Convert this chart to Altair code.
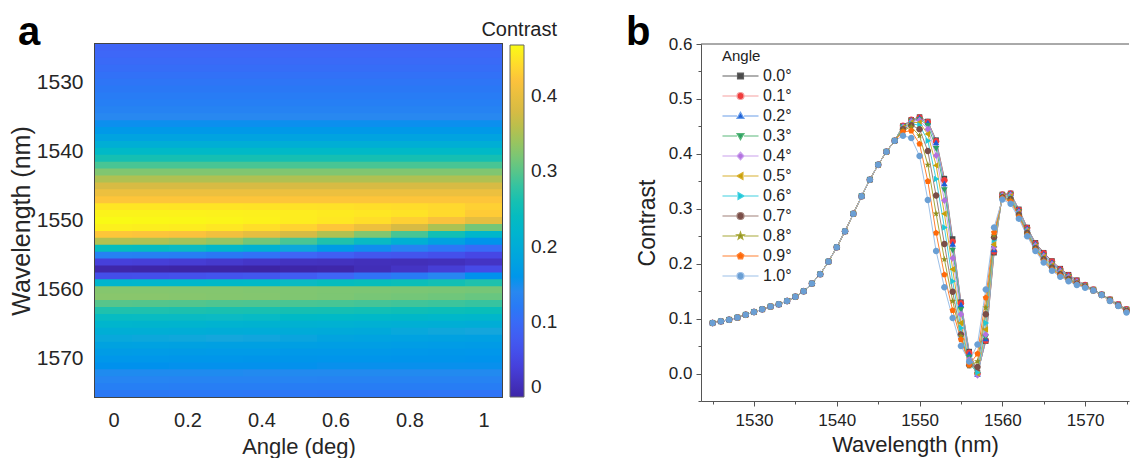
import altair as alt
import pandas as pd

FONT = "Liberation Sans"

angle_labels = ["0.0°", "0.1°", "0.2°", "0.3°", "0.4°", "0.5°", "0.6°", "0.7°", "0.8°", "0.9°", "1.0°"]
angle_values = [0.0, 0.1, 0.2, 0.3, 0.4, 0.5, 0.6, 0.7, 0.8, 0.9, 1.0]
wavelengths = list(range(1525, 1576))

# 1525 ... 1547 nm : all angles overlap
shared_part = [0.092, 0.095, 0.098, 0.102, 0.107, 0.112, 0.117, 0.122, 0.126, 0.132,
               0.140, 0.150, 0.164, 0.181, 0.204, 0.230, 0.259, 0.291, 0.323, 0.353,
               0.380, 0.404, 0.424]
# 1548 ... 1575 nm per angle
tail_00 = [.451, .462, .467, .459, .425, .355, .245, .130, .040, .002, .059, .220, .326, .328,
           .299, .266, .238, .220, .205, .191, .180, .170, .161, .153, .144, .135, .126, .117]
tail_01 = [.451, .462, .466, .458, .423, .352, .240, .128, .038, .000, .060, .222, .326, .328,
           .298, .265, .237, .219, .204, .190, .179, .169, .161, .153, .144, .135, .126, .117]
tail_02 = [.450, .461, .465, .456, .420, .345, .235, .125, .035, -.002, .063, .225, .325, .327,
           .297, .264, .236, .217, .202, .189, .178, .168, .160, .152, .144, .134, .125, .116]
tail_03 = [.450, .460, .463, .452, .410, .335, .225, .117, .030, -.002, .067, .228, .325, .326,
           .295, .262, .234, .215, .200, .187, .177, .167, .160, .152, .144, .134, .125, .116]
tail_04 = [.449, .459, .461, .445, .397, .315, .210, .108, .025, -.003, .071, .230, .324, .325,
           .294, .261, .233, .214, .199, .186, .176, .167, .159, .152, .143, .134, .125, .115]
tail_05 = [.448, .457, .457, .436, .379, .291, .190, .092, .020, .000, .080, .235, .323, .323,
           .292, .259, .231, .212, .197, .184, .174, .165, .159, .152, .143, .134, .124, .115]
tail_06 = [.447, .455, .452, .424, .354, .266, .168, .083, .018, .002, .092, .243, .322, .321,
           .291, .258, .230, .210, .195, .182, .173, .164, .158, .151, .143, .133, .124, .114]
tail_07 = [.445, .452, .445, .405, .324, .236, .149, .071, .015, .012, .108, .248, .321, .318,
           .289, .256, .228, .208, .193, .181, .172, .164, .158, .151, .143, .133, .124, .114]
tail_08 = [.443, .449, .433, .380, .291, .208, .132, .068, .014, .022, .120, .252, .320, .316,
           .287, .254, .227, .206, .191, .179, .171, .163, .157, .151, .143, .133, .123, .113]
tail_09 = [.440, .442, .418, .350, .256, .180, .115, .062, .016, .036, .138, .257, .319, .313,
           .285, .252, .225, .204, .189, .178, .169, .162, .157, .151, .143, .132, .123, .112]
tail_10 = [.433, .429, .396, .316, .223, .157, .101, .050, .022, .053, .153, .266, .317, .309,
           .282, .250, .223, .202, .187, .176, .168, .161, .156, .151, .143, .132, .123, .111]
tails = [tail_00, tail_01, tail_02, tail_03, tail_04, tail_05, tail_06, tail_07, tail_08, tail_09, tail_10]

marker_colors = ["#4a4a4a", "#f03c3c", "#1d5fd8", "#2ea064", "#b472e0", "#c8a00a",
                 "#20c8d8", "#7a4e48", "#909020", "#ff6a0a", "#6a9fd4"]
line_colors = ["#606060", "#f5a0a0", "#6a9ee8", "#5ab87a", "#c9a0ec", "#d8b030",
               "#40d0e0", "#a08078", "#a8a838", "#ff8030", "#9cc0e8"]
parula = ["#3e26a8", "#4745e4", "#3f66f7", "#2888f0", "#15a6dc", "#0bbac4",
          "#35c3a0", "#88c66c", "#d2ba45", "#fcc23c", "#f9fb14"]

rows = []
for lab, av, tail in zip(angle_labels, angle_values, tails):
    for wl, c in zip(wavelengths, shared_part + tail):
        rows.append({"label": lab, "angle": av, "wl": wl, "contrast": c})
df = pd.DataFrame(rows)

# ---------- marker paths ----------
def poly(pts, dx=0.0):
    return "M" + "L".join(f"{x + dx:.3f},{y:.3f}" for x, y in pts) + "Z"

def circ(dx=0.0):
    return f"M{1 + dx:.3f},0A1,1,0,1,1,{-1 + dx:.3f},0A1,1,0,1,1,{1 + dx:.3f},0Z"

shape_pts = [
    [(-0.85, -0.85), (0.85, -0.85), (0.85, 0.85), (-0.85, 0.85)],
    None,
    [(0, -1.05), (1, 0.7), (-1, 0.7)],
    [(0, 1.05), (1, -0.7), (-1, -0.7)],
    [(0, -1.1), (1, 0), (0, 1.1), (-1, 0)],
    [(-1.05, 0), (0.7, -1), (0.7, 1)],
    [(1.05, 0), (-0.7, -1), (-0.7, 1)],
    None,
    [(0, -1.1), (0.26, -0.36), (1.05, -0.34), (0.42, 0.13), (0.65, 0.89), (0, 0.44),
     (-0.65, 0.89), (-0.42, 0.13), (-1.05, -0.34), (-0.26, -0.36)],
    [(0, -1), (0.95, -0.31), (0.59, 0.81), (-0.59, 0.81), (-0.95, -0.31)],
    None,
]

def mk(i, dx=0.0):
    return circ(dx) if shape_pts[i] is None else poly(shape_pts[i], dx)

marker_paths = [mk(i) for i in range(11)]
legend_paths = ["M-2.15,0L2,0M4,0L8.15,0" + mk(i, 3.0) for i in range(11)]

# ---------- panel a : heatmap ----------
cscale = alt.Scale(domain=[0, 0.468], range=parula, nice=False, zero=False)
xa_scale = alt.Scale(domain=[-0.05, 1.05], nice=False, zero=False)
ya_scale = alt.Scale(domain=[1524.5, 1575.5], nice=False, zero=False, reverse=True)

# cells are drawn slightly oversized so that neighbouring cells overlap (no seams)
heat = alt.Chart(df).transform_calculate(
    x1="datum.angle - 0.05", x2="datum.angle + 0.06",
    y1="datum.wl - 0.5", y2="datum.wl + 0.7"
).mark_rect(strokeWidth=0, clip=True).encode(
    x=alt.X("x1:Q", scale=xa_scale, title="Angle (deg)",
            axis=alt.Axis(orient="bottom", offset=-5, tickSize=5, domain=False, grid=False,
                          values=[0, 0.2, 0.4, 0.6, 0.8, 1], format="~g",
                          labelFontSize=20, labelPadding=13, labelColor="#262626",
                          titleFontSize=22, titleFontWeight="normal", titlePadding=6,
                          titleColor="#262626", tickColor="#444")),
    x2="x2:Q",
    y=alt.Y("y1:Q", scale=ya_scale, title="Wavelength (nm)",
            axis=alt.Axis(orient="left", offset=-5, tickSize=5, domain=False, grid=False,
                          values=[1530, 1540, 1550, 1560, 1570], format="d",
                          labelFontSize=21, labelPadding=12, labelColor="#262626",
                          titleFontSize=25, titleFontWeight="normal", titlePadding=2,
                          titleColor="#262626", tickColor="#444")),
    y2="y2:Q",
    color=alt.Color("contrast:Q", scale=cscale,
                    legend=alt.Legend(type="gradient", orient="none", legendX=386, legendY=-24,
                                      direction="vertical",
                                      title="Contrast", titleFontSize=20, titleFontWeight="normal",
                                      titleColor="#222", titleAnchor="end", titleAlign="right",
                                      titlePadding=5, gradientLength=352, gradientThickness=14,
                                      gradientStrokeColor="#666", gradientStrokeWidth=1,
                                      values=[0, 0.1, 0.2, 0.3, 0.4], labelFontSize=19,
                                      labelColor="#262626", labelOffset=7, labelOverlap=False,
                                      labelBaseline="middle",
                                      labelExpr="datum.value == 0 ? '0' : format(datum.value, '.1f')")),
)

ticks_a = alt.Chart(df).transform_filter("false").mark_rect().encode(
    x=alt.X("angle:Q", scale=xa_scale,
            axis=alt.Axis(orient="top", offset=-5, tickSize=5, domain=False, labels=False,
                          grid=False, title=None, values=[0, 0.2, 0.4, 0.6, 0.8, 1], tickColor="#444")),
    y=alt.Y("wl:Q", scale=ya_scale,
            axis=alt.Axis(orient="right", offset=-5, tickSize=5, domain=False, labels=False,
                          grid=False, title=None, values=[1530, 1540, 1550, 1560, 1570], tickColor="#444")),
)

panel_a = alt.layer(heat, ticks_a).resolve_axis(x="independent", y="independent").properties(
    width=407, height=353,
    view=alt.ViewBackground(stroke="#444", strokeWidth=2),
    title=alt.TitleParams("a", anchor="start", frame="group", dx=-77, fontSize=40,
                          fontWeight="bold", font=FONT, offset=-33, color="#000"),
)

# ---------- panel b : curves ----------
xb_scale = alt.Scale(domain=[1523.6, 1575.3], nice=False, zero=False)
yb_scale = alt.Scale(domain=[-0.05, 0.6], nice=False, zero=False)

xb_axis = alt.Axis(orient="bottom", values=list(range(1525, 1576, 5)),
                   labelExpr="datum.value % 10 == 0 ? datum.label : ''", format="d",
                   tickSize={"condition": {"test": "datum.value % 10 == 0", "value": 5}, "value": 3},
                   domainColor="#555", tickColor="#555", grid=False,
                   labelFontSize=17, labelColor="#222", labelPadding=6,
                   titleFontSize=22, titleFontWeight="normal", titleColor="#222", titlePadding=6)
yb_axis = alt.Axis(orient="left",
                   values=[-0.05, 0.0, 0.05, 0.1, 0.15, 0.2, 0.25, 0.3, 0.35, 0.4, 0.45, 0.5, 0.55, 0.6],
                   labelExpr="abs(round(datum.value*100)) % 10 == 0 ? format(datum.value, '.1f') : ''",
                   tickSize={"condition": {"test": "abs(round(datum.value*100)) % 10 == 0", "value": 5}, "value": 3},
                   domainColor="#555", tickColor="#555", grid=False,
                   labelFontSize=17, labelColor="#222", labelPadding=4,
                   titleFontSize=23, titleFontWeight="normal", titleColor="#222", titlePadding=9)

base_b = alt.Chart(df)
lines = base_b.mark_line(strokeWidth=1).encode(
    x=alt.X("wl:Q", scale=xb_scale, axis=xb_axis, title="Wavelength (nm)"),
    y=alt.Y("contrast:Q", scale=yb_scale, axis=yb_axis, title="Contrast"),
    stroke=alt.Stroke("label:N", scale=alt.Scale(domain=angle_labels, range=line_colors), legend=None),
    order="wl:Q",
)
points = base_b.mark_point(filled=True, size=42, opacity=1).encode(
    x=alt.X("wl:Q", scale=xb_scale, axis=xb_axis, title="Wavelength (nm)"),
    y=alt.Y("contrast:Q", scale=yb_scale, axis=yb_axis, title="Contrast"),
    fill=alt.Fill("label:N", scale=alt.Scale(domain=angle_labels, range=marker_colors), legend=None),
    shape=alt.Shape("label:N", scale=alt.Scale(domain=angle_labels, range=marker_paths), legend=None),
)
leg = alt.Legend(orient="none", legendX=21, legendY=5, title="Angle", titleFontSize=15,
                 titleFontWeight="normal", titleColor="#222", titlePadding=4,
                 labelFontSize=16, labelColor="#222", labelOffset=25, rowPadding=4,
                 symbolSize=49, symbolStrokeWidth=1.2, padding=0)
legend_layer = base_b.transform_filter("false").mark_point(filled=True, size=49, opacity=1, strokeWidth=1.2).encode(
    x=alt.X("wl:Q", scale=xb_scale, axis=xb_axis, title="Wavelength (nm)"),
    y=alt.Y("contrast:Q", scale=yb_scale, axis=yb_axis, title="Contrast"),
    fill=alt.Fill("label:N", scale=alt.Scale(domain=angle_labels, range=marker_colors), legend=leg),
    stroke=alt.Stroke("label:N", scale=alt.Scale(domain=angle_labels, range=line_colors), legend=leg),
    shape=alt.Shape("label:N", scale=alt.Scale(domain=angle_labels, range=legend_paths), legend=leg),
)
y_top = [0.6]
frame_top = alt.Chart(pd.DataFrame({"ytop": y_top})).mark_rule(color="#555", strokeWidth=1).encode(
    y=alt.Y("ytop:Q", scale=yb_scale, axis=yb_axis, title="Contrast"),
)

panel_b = alt.layer(lines, points, legend_layer, frame_top).resolve_scale(
    fill="independent", stroke="independent", shape="independent"
).properties(
    width=428, height=357,
    title=alt.TitleParams("b", anchor="start", frame="group", dx=-75, fontSize=40,
                          fontWeight="bold", font=FONT, offset=-18, color="#000"),
)

chart = alt.hconcat(panel_a, panel_b, spacing=67).resolve_scale(
    color="independent", fill="independent", stroke="independent", shape="independent"
).configure(font=FONT).configure_view(stroke=None).properties(
    padding={"left": 0, "top": 4, "right": 0, "bottom": 0}
)

chart.save("out.html", embed_options={"renderer": "svg", "actions": False})
